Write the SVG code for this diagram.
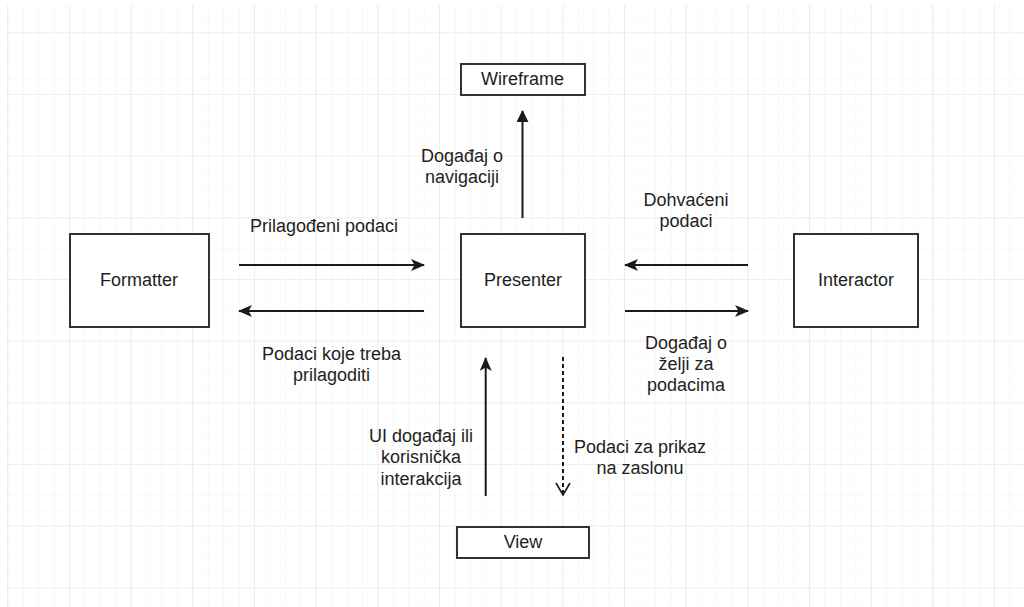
<svg xmlns="http://www.w3.org/2000/svg" width="1024" height="607" viewBox="0 0 1024 607">
  <defs>
    <pattern id="minor" x="7.3" y="32.3" width="15.42" height="15.42" patternUnits="userSpaceOnUse">
      <path d="M0 0H15.42M0 0V15.42" fill="none" stroke="#f3f3f3" stroke-width="1.2"/>
    </pattern>
    <pattern id="major" x="7.3" y="32.3" width="61.67" height="61.67" patternUnits="userSpaceOnUse">
      <path d="M0 0H61.67M0 0V61.67" fill="none" stroke="#e4e4e4" stroke-width="1.2"/>
    </pattern>
    <marker id="classic" viewBox="0 0 14 12" refX="13" refY="6" markerWidth="14" markerHeight="12" markerUnits="userSpaceOnUse" orient="auto">
      <path d="M0 0 L14 6 L0 12 L3.5 6 Z" fill="#1a1a1a"/>
    </marker>
    <marker id="block" viewBox="0 0 12 12" refX="11" refY="6" markerWidth="12" markerHeight="12" markerUnits="userSpaceOnUse" orient="auto">
      <path d="M0 0 L12 6 L0 12 Z" fill="#1a1a1a"/>
    </marker>
    <marker id="open" viewBox="0 0 14 16" refX="13" refY="8" markerWidth="14" markerHeight="16" markerUnits="userSpaceOnUse" orient="auto">
      <path d="M1 1 L13 8 L1 15" fill="none" stroke="#1a1a1a" stroke-width="1.6"/>
    </marker>
  </defs>
  <style>
    .box { fill: #ffffff; stroke: #333333; stroke-width: 2; }
    .lbl { font-family: "Liberation Sans", Arial, sans-serif; font-size: 18px; fill: #1e1e1e; text-anchor: middle; }
    .edge { fill: none; stroke: #1a1a1a; stroke-width: 2; }
  </style>
  <rect width="1024" height="607" fill="#ffffff"/>
  <rect x="7" y="5" width="1017" height="602" fill="url(#minor)"/>
  <rect x="7" y="5" width="1017" height="602" fill="url(#major)"/>

  <g id="connectors">
    <line class="edge" x1="522.5" y1="218" x2="522.5" y2="111" marker-end="url(#block)"/>
    <line class="edge" x1="239" y1="265" x2="424" y2="265" marker-end="url(#classic)"/>
    <line class="edge" x1="424" y1="311" x2="239" y2="311" marker-end="url(#classic)"/>
    <line class="edge" x1="748" y1="265" x2="625" y2="265" marker-end="url(#classic)"/>
    <line class="edge" x1="625" y1="311" x2="748" y2="311" marker-end="url(#classic)"/>
    <line class="edge" x1="485.7" y1="496" x2="485.7" y2="358" marker-end="url(#classic)"/>
    <line class="edge" x1="563" y1="357" x2="563" y2="495" stroke-dasharray="4 3" marker-end="url(#open)"/>
  </g>

  <g id="wireframe">
    <rect class="box" x="461" y="64" width="124" height="31"/>
    <text class="lbl" x="522.5" y="85">Wireframe</text>
  </g>
  <g id="presenter">
    <rect class="box" x="461" y="234" width="124" height="93"/>
    <text class="lbl" x="523" y="286">Presenter</text>
  </g>
  <g id="formatter">
    <rect class="box" x="70" y="234" width="139" height="93"/>
    <text class="lbl" x="139" y="286">Formatter</text>
  </g>
  <g id="interactor">
    <rect class="box" x="794" y="234" width="124" height="93"/>
    <text class="lbl" x="856" y="286">Interactor</text>
  </g>
  <g id="view">
    <rect class="box" x="457" y="527" width="132" height="31"/>
    <text class="lbl" x="523" y="548">View</text>
  </g>

  <g id="labels">
    <text class="lbl" x="462" y="161.5">Događaj o<tspan x="462" y="182.5">navigaciji</tspan></text>
    <text class="lbl" x="324" y="231.5">Prilagođeni podaci</text>
    <text class="lbl" x="331.5" y="360">Podaci koje treba<tspan x="331.5" y="381">prilagoditi</tspan></text>
    <text class="lbl" x="686" y="206">Dohvaćeni<tspan x="686" y="227">podaci</tspan></text>
    <text class="lbl" x="686" y="349">Događaj o<tspan x="686" y="370">želji za</tspan><tspan x="686" y="391">podacima</tspan></text>
    <text class="lbl" x="421" y="442">UI događaj ili<tspan x="421" y="463">korisnička</tspan><tspan x="421" y="484.5">interakcija</tspan></text>
    <text class="lbl" x="640" y="452.5">Podaci za prikaz<tspan x="640" y="474">na zaslonu</tspan></text>
  </g>
</svg>
